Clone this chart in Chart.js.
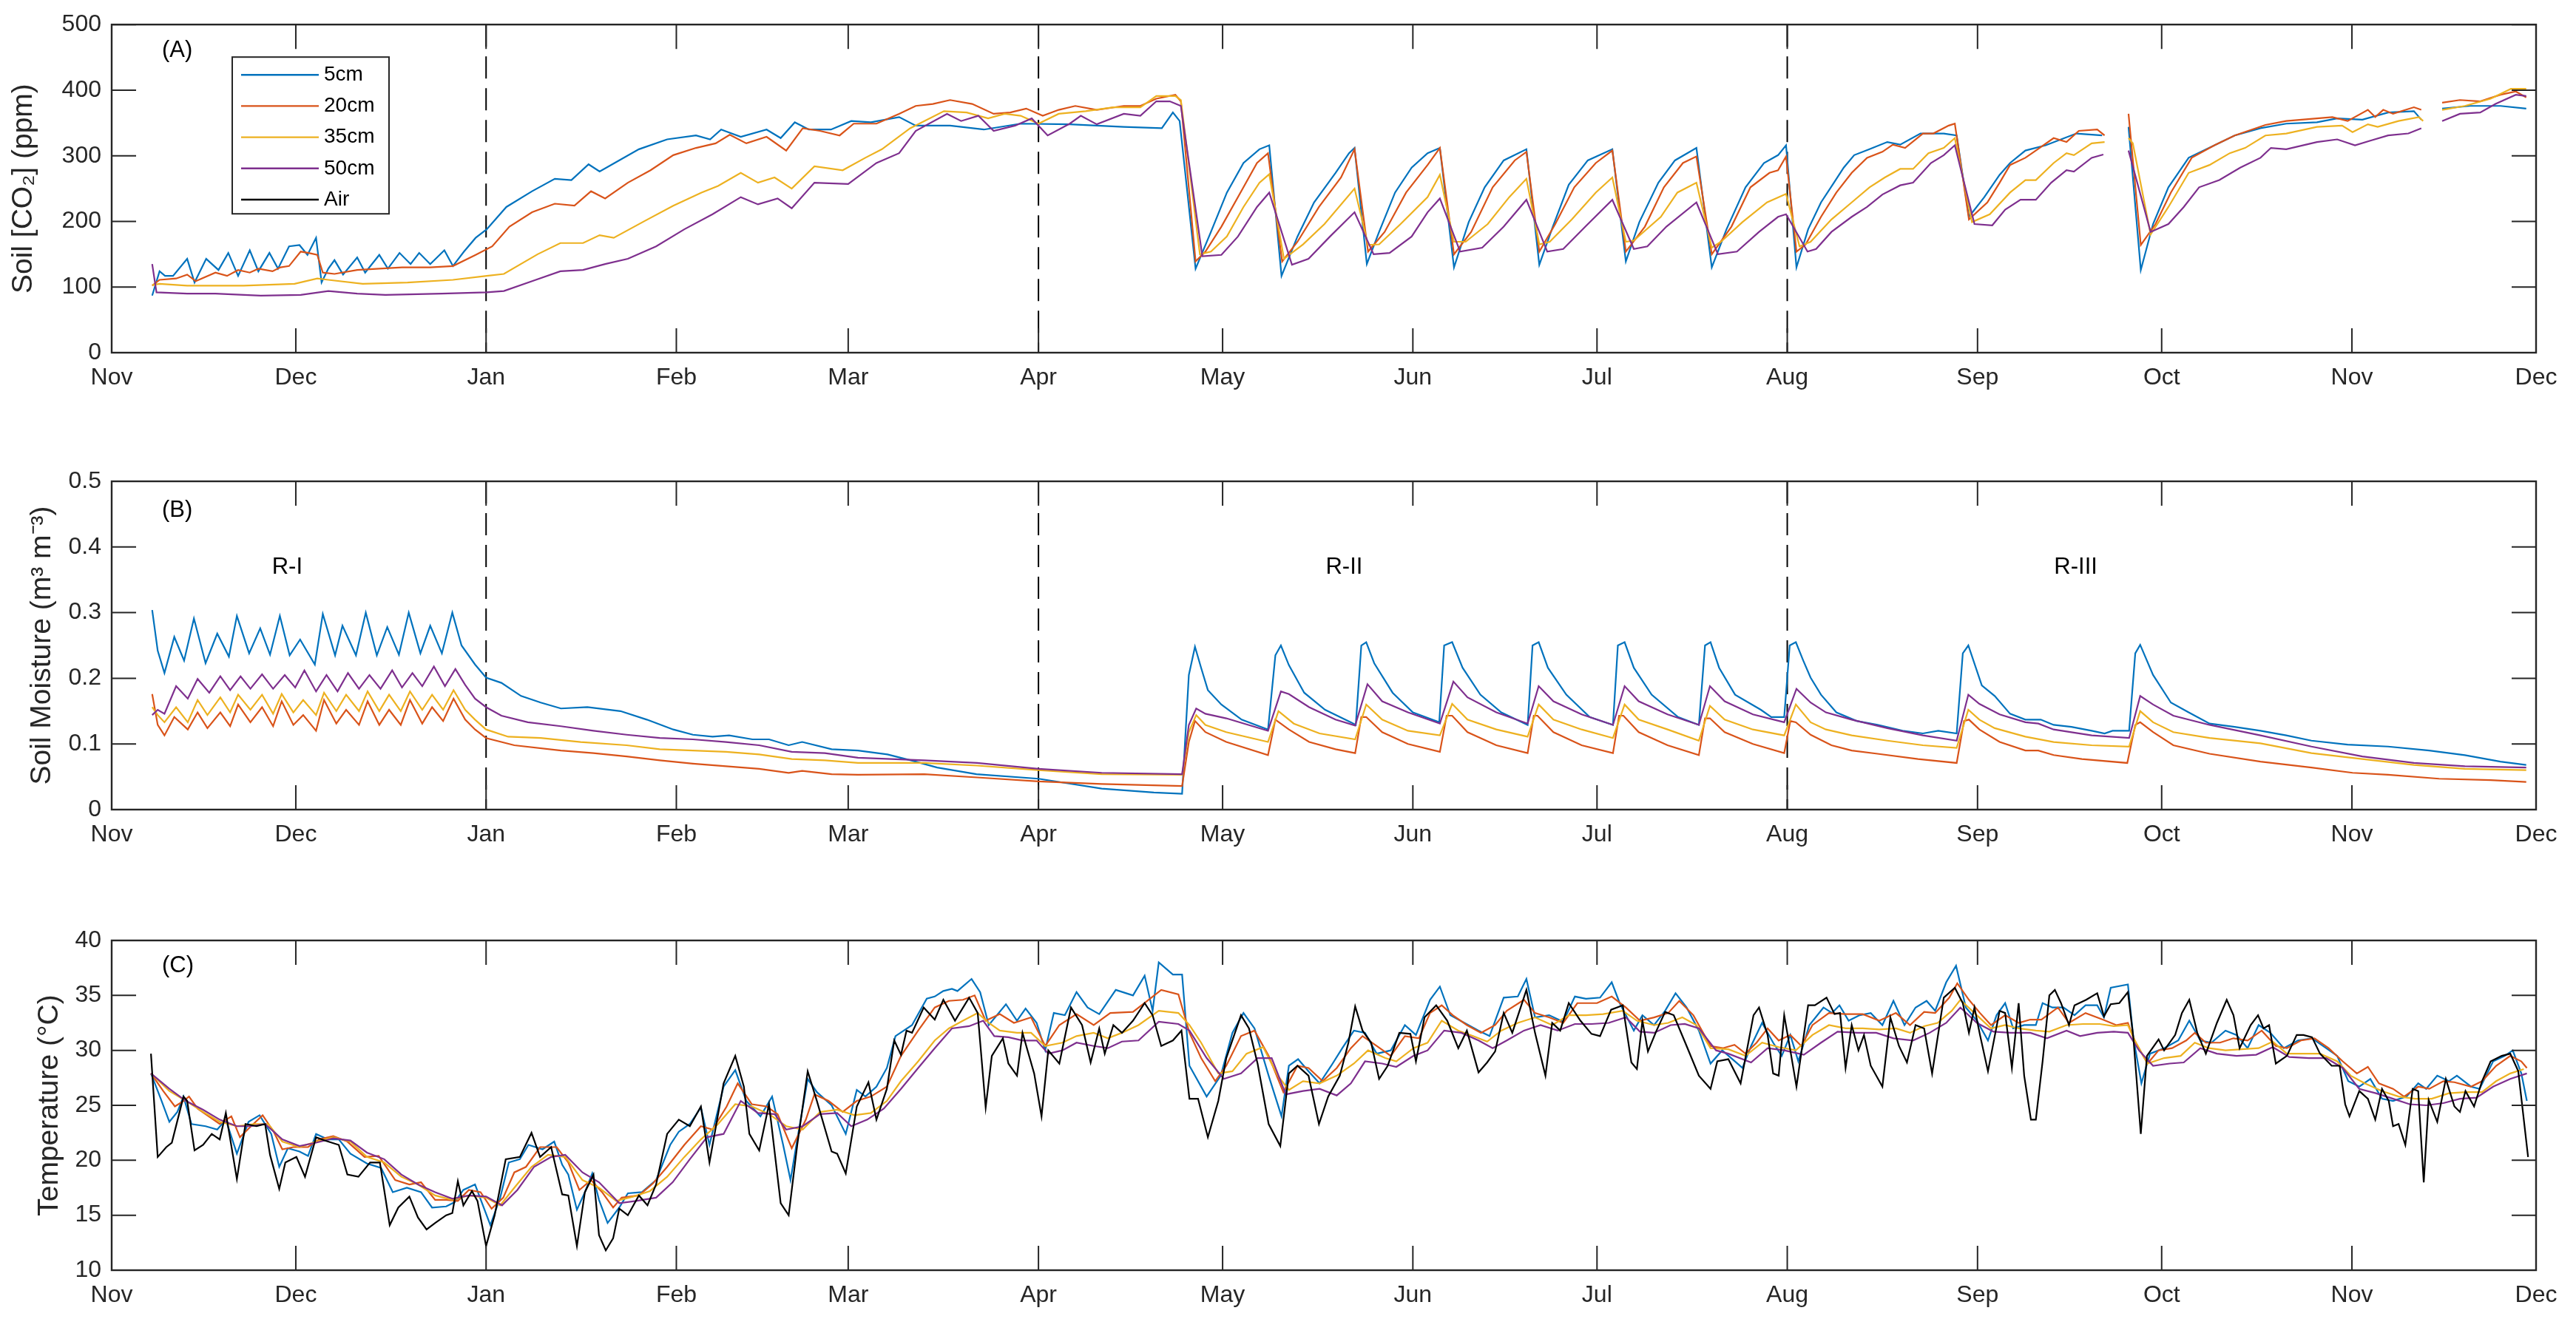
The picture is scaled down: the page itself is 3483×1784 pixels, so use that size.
<!DOCTYPE html>
<html lang="en">
<head>
<meta charset="UTF-8">
<title>Soil CO2, Soil Moisture and Temperature</title>
<script src="https://cdn.jsdelivr.net/npm/chart.js"></script>
<style>
  body { margin: 0; background: #fff; }
  .panel { position: absolute; left: 0; width: 3483px; }
  #panelA { top: 0; height: 590px; }
  #panelB { top: 610px; height: 590px; }
  #panelC { top: 1210px; height: 574px; }
</style>
</head>
<body>
<div class="panel" id="panelA"><canvas id="chartA"></canvas></div>
<div class="panel" id="panelB"><canvas id="chartB"></canvas></div>
<div class="panel" id="panelC"><canvas id="chartC"></canvas></div>

<script>
// days counted from 1 Nov; month starts used as x ticks
const monthTicks = [0, 30, 61, 92, 120, 151, 181, 212, 242, 273, 304, 334, 365, 395];
const monthLabels = ['Nov', 'Dec', 'Jan', 'Feb', 'Mar', 'Apr', 'May', 'Jun', 'Jul', 'Aug', 'Sep', 'Oct', 'Nov', 'Dec'];
const seriesNames = ['5cm', '20cm', '35cm', '50cm', 'Air'];
const regimeStarts = [61, 151, 273];

// (A) soil CO2, ppm  -- [day, value]
const co2_5cm = [[6.6,87],[7.8,124],[8.7,117],[10.0,117],[12.3,143],[13.5,107],[15.4,143],[17.4,126],[19.0,152],[20.6,117],[22.5,156],[23.9,124],[25.7,152],[27.1,128],[28.9,162],[30.6,164],[31.9,149],[33.3,175],[34.2,107],[35.3,128],[36.3,141],[37.7,119],[40.0,145],[41.3,122],[43.6,149],[45.0,128],[46.9,152],[48.7,135],[50.1,152],[51.9,135],[54.2,156],[55.6,132],[57.4,154],[59.3,175],[61.1,188],[64.3,222],[68.5,246],[72.2,265],[74.9,263],[77.7,287],[79.5,276],[82.3,291],[85.9,310],[90.5,325],[95.2,331],[97.5,325],[99.3,340],[102.5,329],[106.7,340],[109.0,327],[111.3,351],[113.6,340],[117.2,340],[120.5,353],[123.7,351],[128.3,359],[131.0,346],[136.6,346],[142.1,340],[148.1,349],[156.1,348],[164.9,344],[171.1,342],[172.9,366],[174.0,353],[176.6,128],[179.1,184],[181.7,244],[184.4,289],[187.0,310],[188.6,316],[190.6,117],[193.2,177],[195.9,229],[199.4,274],[201.6,304],[202.5,312],[204.5,135],[206.5,184],[209.1,244],[211.8,282],[214.4,304],[216.4,312],[218.7,130],[221.1,199],[223.7,252],[226.8,293],[230.5,310],[232.6,134],[234.8,192],[237.4,256],[240.5,293],[244.5,310],[246.7,139],[248.9,199],[252.0,259],[254.7,293],[258.2,312],[260.7,130],[263.1,188],[266.2,252],[269.2,289],[271.5,301],[272.8,316],[274.5,130],[276.4,188],[278.5,229],[280.6,259],[282.2,282],[283.9,301],[286.4,310],[289.3,321],[291.4,317],[294.7,334],[298.5,334],[300.6,331],[302.6,207],[305.1,237],[307.6,271],[309.3,289],[311.8,308],[315.1,316],[320.1,334],[324.3,331],[326,null],[328.6,344],[330.6,126],[332.6,196],[335.1,252],[338.4,297],[342.6,316],[345.9,331],[350.1,342],[354.3,349],[359.3,351],[362.6,357],[366.7,355],[370.9,366],[375.1,368],[376.3,355],[378,null],[379.7,372],[384.2,376],[389.2,376],[393.4,372]];
const co2_20cm = [[6.6,102],[7.8,111],[10.5,113],[12.3,119],[13.7,109],[16.9,122],[18.8,117],[20.6,126],[22.5,122],[23.9,128],[26.2,124],[27.5,130],[28.9,132],[30.8,154],[32.1,152],[33.5,149],[34.4,122],[36.3,120],[40.0,126],[43.6,128],[47.3,130],[51.9,130],[55.6,132],[59.3,149],[62.0,162],[64.8,192],[68.5,214],[72.2,227],[75.4,224],[78.1,246],[80.4,235],[84.1,259],[87.8,278],[91.5,301],[95.2,312],[98.4,319],[100.7,332],[103.4,319],[106.7,329],[109.9,308],[112.6,342],[115.4,338],[118.6,331],[120.9,349],[124.6,349],[128.3,364],[131.0,376],[133.8,379],[136.6,385],[140.2,379],[143.7,364],[146.4,366],[149.0,372],[151.7,361],[154.3,370],[157.0,376],[160.5,370],[164.9,376],[167.6,376],[170.2,387],[173.3,393],[174.2,383],[176.6,139],[178.2,154],[180.8,192],[184.4,252],[186.6,289],[188.4,304],[190.7,139],[193.2,169],[196.7,222],[200.3,267],[202.5,310],[204.7,154],[207.4,184],[210.9,244],[214.4,286],[216.4,312],[218.7,150],[221.5,184],[225.0,252],[228.6,293],[230.5,306],[232.6,154],[235.2,196],[238.3,252],[241.8,289],[244.5,308],[246.7,154],[249.8,192],[252.9,252],[256.0,289],[258.2,299],[260.7,150],[263.9,192],[267.0,252],[270.1,274],[271.5,278],[272.8,299],[274.5,154],[276.0,165],[278.5,207],[281.0,244],[283.5,274],[286.0,297],[288.5,306],[290.2,317],[292.2,312],[295.1,334],[296.8,334],[299.3,346],[300.3,349],[302.6,203],[305.6,229],[307.6,259],[309.3,286],[311.8,297],[313.5,308],[316.4,327],[318.5,321],[320.5,338],[323.5,340],[324.7,331],[326,null],[328.6,364],[330.6,164],[333.0,196],[335.5,244],[338.9,297],[342.6,316],[345.9,331],[350.9,347],[354.3,353],[361.8,359],[364.3,353],[367.6,370],[368.8,359],[370.1,370],[371.7,364],[375.1,374],[376.3,370],[378,null],[379.7,381],[382.6,385],[385.9,383],[389.2,393],[391.7,398],[393.4,389]];
const co2_35cm = [[6.6,103],[7.8,105],[12.3,102],[21.5,102],[29.8,105],[33.5,113],[35.3,111],[40.9,105],[48.2,107],[55.6,111],[61.1,117],[63.9,120],[69.4,150],[73.1,167],[76.8,167],[79.5,179],[81.8,175],[86.9,201],[91.5,224],[96.1,244],[98.8,254],[102.5,274],[105.3,259],[108.0,267],[110.8,250],[114.5,284],[119.1,278],[122.8,297],[125.5,310],[130.1,342],[135.6,368],[139.3,366],[142.8,357],[145.5,364],[148.1,361],[151.0,349],[154.3,364],[158.7,368],[163.2,374],[167.6,374],[170.2,391],[173.3,391],[174.2,385],[177.3,150],[179.1,154],[181.7,177],[184.4,222],[187.0,259],[188.6,272],[191.0,143],[194.1,165],[197.6,196],[202.5,250],[204.7,164],[206.5,165],[210.0,196],[214.4,237],[216.4,271],[218.7,169],[220.6,169],[224.2,196],[227.7,237],[230.5,265],[232.6,165],[234.3,169],[237.9,203],[241.8,244],[244.5,267],[246.7,169],[248.0,171],[252.4,207],[255.1,244],[258.2,259],[260.7,160],[262.2,169],[265.7,199],[269.7,229],[272.8,242],[275.0,162],[276.8,169],[280.2,203],[283.5,229],[286.4,252],[288.9,267],[291.4,280],[293.5,280],[296.0,304],[298.5,312],[300.3,327],[303.1,199],[306.0,211],[309.3,244],[311.8,263],[313.5,263],[316.4,289],[318.5,304],[319.7,301],[322.6,319],[324.7,321],[326,null],[328.6,327],[329.3,319],[332.2,180],[335.1,222],[338.4,274],[341.8,286],[345.1,304],[347.6,312],[350.9,331],[354.3,334],[359.3,344],[363.4,346],[365.1,336],[367.6,348],[369.2,344],[372.6,353],[375.9,359],[376.6,353],[378,null],[379.7,370],[383.4,376],[387.6,387],[390.9,402],[393.4,402]];
const co2_50cm = [[6.6,135],[7.3,92],[12.3,90],[16.9,90],[24.3,87],[30.8,88],[35.3,94],[40.0,90],[44.6,88],[53.8,90],[61.1,92],[63.9,94],[68.5,109],[73.1,124],[76.8,126],[80.4,135],[84.1,143],[88.7,162],[93.3,188],[97.9,211],[102.5,237],[105.3,226],[108.5,235],[110.8,220],[114.5,259],[120.0,257],[124.6,289],[128.3,304],[131.0,338],[136.1,364],[138.4,353],[141.2,361],[143.7,338],[147.2,346],[149.9,357],[152.5,331],[156.1,349],[157.9,361],[160.5,348],[164.9,364],[167.6,361],[170.2,383],[172.4,383],[174.2,376],[177.7,147],[180.8,149],[183.5,177],[186.6,222],[188.6,244],[192.3,134],[195.0,143],[198.5,177],[202.5,214],[205.6,150],[208.2,152],[211.8,177],[214.4,214],[216.4,235],[219.7,154],[223.3,160],[226.8,192],[230.5,233],[233.9,154],[236.5,158],[240.1,192],[244.5,233],[248.0,158],[250.2,162],[253.3,192],[258.2,229],[261.7,150],[264.8,154],[268.4,184],[271.5,207],[272.8,211],[276.3,154],[277.7,158],[280.2,184],[283.5,207],[286.0,222],[288.5,241],[291.4,255],[293.5,259],[296.4,289],[298.5,301],[300.3,316],[303.5,196],[306.4,194],[308.5,218],[311.0,233],[313.5,233],[316.0,259],[318.5,278],[319.7,276],[322.6,297],[324.5,302],[326,null],[328.6,308],[332.2,184],[335.1,196],[337.6,222],[340.1,252],[343.4,263],[346.8,282],[350.1,297],[351.8,312],[354.3,310],[359.3,321],[362.6,325],[365.5,316],[368.0,323],[370.9,331],[374.2,334],[376.3,342],[378,null],[379.7,353],[382.6,364],[385.9,366],[388.4,379],[391.7,393],[393.4,391]];

// (B) soil moisture, m3 m-3
const sm_5cm = [[6.6,0.304],[7.5,0.242],[8.6,0.208],[10.2,0.263],[11.8,0.227],[13.4,0.291],[15.3,0.223],[17.2,0.268],[19.1,0.233],[20.4,0.295],[22.4,0.238],[24.2,0.276],[25.8,0.236],[27.4,0.295],[29.0,0.235],[30.7,0.259],[33.1,0.221],[34.4,0.298],[36.4,0.235],[37.6,0.280],[39.8,0.235],[41.4,0.300],[43.2,0.235],[44.9,0.278],[46.8,0.236],[48.4,0.300],[50.3,0.238],[51.9,0.280],[53.8,0.238],[55.5,0.300],[57.0,0.250],[59.2,0.221],[61.0,0.201],[63.5,0.193],[66.7,0.173],[69.9,0.163],[73.2,0.154],[77.5,0.156],[82.9,0.150],[87.2,0.137],[91.5,0.122],[94.7,0.114],[97.9,0.111],[100.6,0.113],[104.4,0.107],[107.1,0.107],[110.3,0.098],[112.5,0.103],[117.3,0.092],[121.6,0.090],[126.4,0.084],[130.2,0.075],[134.5,0.064],[140.9,0.054],[151.0,0.047],[161.3,0.032],[169.8,0.026],[174.4,0.024],[175.5,0.205],[176.5,0.248],[177.5,0.216],[178.6,0.182],[180.8,0.160],[184.1,0.137],[188.4,0.122],[189.6,0.235],[190.5,0.250],[191.8,0.220],[194.3,0.178],[197.7,0.152],[201.9,0.133],[202.7,0.129],[203.6,0.250],[204.4,0.255],[205.7,0.223],[208.7,0.178],[212.0,0.148],[216.3,0.133],[217.1,0.250],[218.4,0.255],[220.1,0.216],[223.0,0.175],[226.4,0.148],[230.7,0.129],[231.5,0.250],[232.5,0.255],[234.0,0.216],[237.0,0.175],[240.8,0.141],[244.6,0.129],[245.4,0.250],[246.5,0.255],[248.0,0.216],[250.9,0.175],[255.2,0.141],[258.6,0.129],[259.6,0.250],[260.5,0.255],[261.9,0.216],[264.5,0.175],[268.7,0.152],[270.4,0.141],[272.5,0.141],[273.4,0.250],[274.4,0.255],[275.6,0.227],[276.8,0.201],[278.5,0.175],[281.0,0.148],[284.3,0.135],[287.7,0.129],[291.8,0.120],[295.1,0.116],[297.6,0.120],[300.6,0.116],[301.6,0.238],[302.5,0.250],[304.7,0.189],[306.8,0.173],[309.3,0.146],[311.8,0.137],[314.3,0.137],[316.4,0.129],[319.3,0.126],[322.6,0.120],[324.7,0.116],[326.0,0.120],[328.7,0.120],[329.7,0.238],[330.5,0.251],[332.6,0.205],[335.5,0.163],[338.4,0.148],[341.8,0.131],[345.9,0.126],[350.1,0.120],[354.3,0.113],[358.4,0.105],[364.3,0.099],[370.9,0.096],[377.6,0.090],[383.4,0.083],[389.2,0.073],[393.4,0.068]];
const sm_20cm = [[6.6,0.176],[7.5,0.129],[8.6,0.113],[10.2,0.141],[12.4,0.122],[14.0,0.148],[15.6,0.124],[17.7,0.148],[19.3,0.127],[20.6,0.160],[22.6,0.133],[24.5,0.156],[26.3,0.127],[27.7,0.165],[29.6,0.129],[31.2,0.144],[33.3,0.120],[34.6,0.167],[36.6,0.131],[38.2,0.152],[40.3,0.129],[41.7,0.165],[43.6,0.129],[45.2,0.152],[47.1,0.129],[48.6,0.167],[50.6,0.131],[52.2,0.156],[54.0,0.135],[55.7,0.169],[57.6,0.137],[59.2,0.122],[61.0,0.109],[65.6,0.098],[73.2,0.090],[78.5,0.086],[83.9,0.081],[89.3,0.075],[94.7,0.070],[100.1,0.066],[105.5,0.062],[110.3,0.056],[112.5,0.059],[117.3,0.054],[121.6,0.053],[132.4,0.054],[141.0,0.049],[151.0,0.043],[161.3,0.039],[174.4,0.036],[175.5,0.103],[176.5,0.135],[178.2,0.118],[181.6,0.103],[188.4,0.083],[189.6,0.137],[191.8,0.122],[195.1,0.103],[199.4,0.092],[202.6,0.086],[203.6,0.141],[204.4,0.141],[207.0,0.118],[211.2,0.100],[216.4,0.088],[217.5,0.143],[218.4,0.143],[220.9,0.118],[225.6,0.098],[230.7,0.086],[231.7,0.143],[232.3,0.143],[234.9,0.118],[239.5,0.098],[244.6,0.086],[245.6,0.143],[246.3,0.143],[248.8,0.118],[253.5,0.098],[258.6,0.083],[259.6,0.139],[260.4,0.139],[262.8,0.118],[267.4,0.100],[272.5,0.086],[273.5,0.135],[274.4,0.133],[276.8,0.114],[280.2,0.098],[283.5,0.090],[287.7,0.085],[294.3,0.077],[300.6,0.071],[301.8,0.135],[302.6,0.137],[304.3,0.122],[307.6,0.103],[311.8,0.090],[313.9,0.090],[316.4,0.083],[321.0,0.077],[328.4,0.071],[329.7,0.129],[330.5,0.133],[332.6,0.118],[335.9,0.098],[341.8,0.085],[350.1,0.073],[358.4,0.064],[365.1,0.056],[370.9,0.053],[379.2,0.047],[387.6,0.045],[393.4,0.042]];
const sm_35cm = [[6.6,0.156],[7.5,0.144],[8.6,0.133],[10.5,0.156],[12.4,0.133],[14.0,0.167],[15.6,0.144],[17.7,0.171],[19.3,0.148],[20.6,0.175],[22.6,0.152],[24.5,0.175],[26.3,0.146],[27.7,0.176],[29.6,0.148],[31.2,0.167],[33.3,0.144],[34.6,0.178],[36.6,0.150],[38.2,0.175],[40.3,0.150],[41.7,0.180],[43.6,0.150],[45.2,0.175],[47.1,0.150],[48.6,0.180],[50.6,0.152],[52.2,0.175],[54.0,0.152],[55.7,0.182],[57.6,0.152],[59.2,0.137],[61.0,0.122],[64.6,0.111],[69.9,0.109],[76.4,0.103],[83.9,0.098],[89.3,0.092],[94.7,0.090],[100.1,0.088],[105.5,0.084],[110.8,0.077],[116.2,0.075],[121.6,0.071],[132.4,0.071],[141.0,0.067],[151.0,0.060],[161.3,0.054],[174.4,0.053],[175.5,0.118],[176.7,0.144],[178.2,0.129],[181.6,0.118],[188.4,0.103],[190.1,0.150],[192.6,0.131],[196.8,0.116],[202.6,0.107],[204.4,0.160],[207.0,0.137],[211.2,0.120],[216.4,0.113],[218.4,0.161],[220.9,0.137],[225.6,0.122],[230.7,0.111],[232.5,0.160],[234.9,0.137],[239.5,0.122],[244.6,0.109],[246.5,0.160],[248.8,0.137],[253.5,0.122],[258.6,0.105],[260.4,0.158],[262.8,0.137],[267.4,0.122],[272.5,0.113],[274.4,0.160],[276.8,0.133],[279.3,0.122],[283.5,0.113],[289.3,0.105],[295.1,0.098],[300.6,0.094],[302.5,0.152],[304.3,0.137],[306.8,0.124],[311.8,0.111],[316.4,0.103],[322.6,0.098],[328.7,0.096],[330.5,0.150],[332.6,0.133],[335.9,0.118],[341.8,0.109],[350.1,0.101],[358.4,0.086],[366.7,0.077],[375.1,0.068],[383.4,0.062],[393.4,0.060]];
const sm_50cm = [[6.6,0.144],[7.5,0.152],[8.6,0.146],[10.5,0.188],[12.4,0.169],[14.0,0.199],[15.9,0.178],[17.7,0.203],[19.3,0.182],[21.0,0.203],[22.6,0.184],[24.5,0.206],[26.3,0.184],[28.2,0.205],[29.9,0.186],[31.4,0.212],[33.3,0.180],[35.0,0.205],[36.8,0.180],[38.5,0.208],[40.3,0.184],[42.0,0.205],[43.8,0.184],[45.7,0.212],[47.3,0.186],[49.0,0.208],[50.6,0.188],[52.5,0.218],[54.3,0.188],[56.0,0.214],[57.6,0.190],[59.2,0.169],[61.0,0.156],[63.5,0.143],[67.8,0.133],[73.2,0.127],[78.5,0.120],[83.9,0.114],[89.3,0.109],[94.7,0.107],[100.1,0.103],[105.5,0.098],[110.8,0.088],[116.2,0.086],[121.6,0.079],[132.4,0.075],[141.0,0.071],[151.0,0.062],[161.3,0.056],[174.4,0.054],[175.5,0.129],[176.7,0.154],[178.2,0.146],[181.6,0.139],[188.4,0.120],[190.5,0.180],[191.8,0.176],[195.1,0.156],[199.4,0.137],[202.6,0.128],[204.6,0.191],[207.0,0.165],[211.2,0.148],[216.4,0.131],[218.6,0.195],[220.9,0.171],[225.6,0.148],[230.7,0.131],[232.5,0.188],[234.9,0.165],[239.5,0.145],[244.6,0.129],[246.5,0.188],[248.8,0.165],[253.5,0.145],[258.6,0.129],[260.4,0.188],[262.8,0.165],[267.4,0.145],[272.5,0.133],[274.5,0.184],[276.8,0.163],[279.3,0.148],[283.5,0.137],[289.3,0.124],[295.1,0.113],[300.6,0.105],[302.5,0.175],[304.3,0.161],[307.6,0.145],[311.8,0.133],[313.9,0.131],[316.4,0.122],[322.6,0.113],[328.7,0.109],[330.5,0.173],[332.6,0.160],[335.9,0.143],[341.8,0.129],[350.1,0.113],[358.4,0.096],[366.7,0.081],[375.1,0.071],[383.4,0.066],[393.4,0.064]];

// (C) temperature, degC
const temp_5cm = [[6.4,27.9],[8.0,25.6],[9.4,23.5],[10.7,24.4],[11.7,25.8],[13.0,23.3],[15.3,23.1],[17.2,22.8],[18.6,23.7],[20.4,20.6],[22.3,23.5],[24.1,24.1],[26.0,22.4],[27.3,19.4],[28.7,21.1],[30.6,20.8],[32.0,20.4],[33.3,22.4],[35.2,21.9],[37.0,21.9],[38.9,20.6],[41.6,19.7],[43.9,19.3],[45.8,17.1],[48.1,17.5],[50.4,17.1],[52.2,15.7],[54.5,15.8],[55.9,16.2],[57.3,17.3],[59.2,17.8],[61.7,14.1],[63.3,16.6],[64.7,19.8],[66.5,20.1],[67.9,21.4],[70.2,21.0],[72.1,21.7],[73.4,19.6],[74.4,18.7],[75.8,15.5],[77.1,17.1],[78.3,18.8],[79.4,16.4],[80.8,14.3],[82.7,15.7],[84.1,17.0],[86.4,17.1],[88.7,18.2],[91.0,21.4],[92.4,22.6],[94.2,23.3],[96.0,24.8],[97.4,21.4],[99.7,26.7],[101.6,28.2],[103.4,25.4],[105.7,24.0],[107.6,25.8],[109.4,21.4],[110.6,18.2],[111.7,21.9],[113.4,27.4],[114.9,26.2],[117.3,25.0],[119.6,22.4],[121.4,26.4],[122.8,25.8],[124.6,26.7],[126.3,28.4],[127.7,31.3],[130.4,32.3],[132.8,34.7],[134.1,34.9],[135.5,35.4],[136.9,35.6],[137.8,35.4],[140.1,36.5],[141.5,35.3],[142.9,32.3],[145.7,34.2],[147.5,32.7],[148.9,33.8],[150.7,32.5],[152.1,30.0],[153.5,33.4],[155.3,33.2],[157.2,35.3],[159.0,33.9],[160.9,33.3],[163.6,35.5],[166.4,35.0],[168.3,36.8],[169.6,33.6],[170.6,38.0],[172.9,36.9],[174.4,36.9],[175.6,28.6],[178.4,25.8],[180.7,27.7],[182.6,31.6],[184.4,33.4],[186.2,32.0],[188.5,27.7],[190.6,24.0],[191.8,28.6],[193.3,29.2],[195.0,28.1],[196.8,27.0],[198.7,28.6],[200.5,30.2],[202.4,31.8],[204.2,31.6],[206.1,29.7],[208.4,30.0],[210.7,32.3],[212.5,31.4],[214.8,34.6],[216.4,35.8],[218.1,33.2],[220.4,32.5],[222.7,31.8],[224.5,31.3],[226.8,34.8],[229.1,34.9],[230.5,36.5],[231.9,33.0],[234.2,33.2],[236.5,32.6],[238.4,34.9],[240.2,34.7],[242.5,34.8],[244.4,36.2],[245.7,34.3],[248.0,31.8],[249.4,33.2],[251.3,32.3],[253.1,33.6],[254.8,35.2],[256.6,33.9],[258.6,31.8],[260.5,28.8],[262.4,30.0],[265.7,28.4],[267.1,30.4],[268.9,32.5],[270.7,30.7],[272.1,29.5],[273.5,31.4],[274.8,29.0],[276.6,32.3],[278.9,33.9],[280.3,33.4],[281.5,34.1],[283.0,32.7],[284.8,33.2],[286.6,33.4],[288.5,32.3],[290.3,34.5],[292.1,32.3],[293.9,33.9],[295.7,34.5],[297.1,33.6],[298.9,36.2],[300.5,37.7],[302.1,33.9],[303.9,32.7],[305.7,30.9],[307.1,33.2],[308.5,34.3],[309.8,32.0],[311.6,32.3],[313.5,32.3],[314.6,34.3],[316.2,33.9],[318.0,33.9],[319.8,33.2],[321.6,34.1],[323.5,34.1],[324.6,33.0],[325.7,35.7],[328.5,36.0],[329.4,31.1],[330.7,27.0],[332.1,29.7],[334.4,30.2],[336.7,30.9],[338.5,32.7],[340.3,30.9],[342.1,30.7],[344.4,31.8],[346.2,31.4],[348.0,30.2],[349.8,32.3],[351.7,31.6],[353.9,30.2],[356.2,30.9],[358.5,31.1],[360.8,30.2],[362.6,29.5],[364.4,27.2],[366.2,26.7],[368.0,27.4],[369.9,25.6],[371.7,25.4],[373.9,25.8],[375.8,27.0],[377.1,26.5],[378.9,27.7],[380.8,27.2],[382.1,27.7],[384.4,26.7],[385.8,26.5],[388.0,29.0],[389.9,29.5],[391.2,30.0],[392.6,27.9],[393.5,25.4]];
const temp_20cm = [[6.4,27.9],[8.4,26.3],[10.3,24.9],[11.7,25.4],[12.6,25.8],[14.0,24.7],[15.8,24.0],[17.6,23.3],[19.5,24.0],[20.9,22.1],[22.7,23.1],[24.6,24.1],[26.4,22.6],[27.8,21.0],[29.6,21.2],[32.0,21.2],[33.8,21.9],[36.1,22.2],[38.4,21.7],[41.2,20.3],[43.5,20.4],[46.2,18.2],[48.5,17.8],[50.4,18.0],[52.7,16.4],[54.5,16.4],[56.4,16.3],[58.2,17.3],[60.1,17.1],[61.9,15.6],[63.8,16.6],[65.6,18.9],[67.5,19.4],[69.8,21.2],[72.5,21.2],[74.4,19.8],[76.2,17.3],[78.1,18.2],[79.9,17.1],[81.7,15.7],[83.1,16.6],[85.9,16.8],[88.2,17.9],[90.5,19.4],[93.3,21.4],[96.0,23.1],[97.9,22.8],[100.2,24.9],[102.0,27.0],[104.3,25.1],[106.7,24.9],[108.5,24.2],[110.8,21.1],[113.1,23.7],[114.5,26.0],[116.8,25.4],[119.1,24.4],[121.4,25.4],[123.7,25.8],[126.3,26.7],[128.6,29.5],[131.4,31.8],[134.1,33.9],[136.4,34.5],[138.7,34.6],[140.6,35.0],[142.4,32.7],[144.7,33.3],[147.0,32.5],[149.8,33.0],[152.1,30.4],[154.4,32.3],[157.2,33.3],[160.0,32.3],[162.7,33.4],[166.4,33.5],[168.7,34.5],[171.0,35.5],[173.8,35.1],[175.6,31.6],[177.5,29.3],[179.8,27.2],[181.6,28.6],[184.0,31.3],[186.2,31.8],[188.5,29.5],[190.9,26.2],[193.2,28.6],[195.0,28.4],[197.3,27.2],[199.6,28.4],[201.9,30.2],[203.8,31.3],[206.1,30.4],[208.4,29.5],[210.7,31.3],[213.0,31.1],[214.8,33.4],[216.7,34.1],[218.5,33.2],[220.8,32.3],[223.1,31.6],[225.4,32.3],[227.3,33.6],[230.1,34.6],[231.9,33.4],[234.2,33.0],[236.5,32.5],[238.8,34.3],[242.0,34.3],[244.4,34.9],[246.7,33.9],[249.0,32.7],[251.3,33.0],[253.6,33.4],[255.4,34.5],[257.7,33.2],[260.5,30.4],[262.5,30.2],[264.4,30.5],[266.2,29.7],[268.0,30.7],[269.8,32.0],[271.6,30.9],[273.5,31.4],[275.3,30.4],[277.1,32.3],[279.8,33.4],[282.5,33.3],[285.3,33.3],[288.0,32.7],[290.7,33.4],[293.0,32.3],[295.3,33.5],[297.1,33.4],[299.4,34.8],[300.7,36.1],[302.6,34.6],[304.4,33.4],[306.2,32.3],[308.5,33.2],[310.7,32.5],[312.6,32.8],[314.4,32.8],[317.1,33.9],[318.9,32.5],[321.6,33.4],[324.4,32.8],[326.6,32.3],[328.5,32.5],[329.4,31.1],[331.7,28.8],[333.5,30.0],[335.7,30.2],[338.0,30.9],[339.4,31.6],[341.2,30.7],[343.5,30.7],[345.7,31.1],[348.0,30.9],[350.3,31.8],[352.6,30.4],[354.4,30.2],[356.7,30.9],[358.9,31.1],[361.2,30.2],[363.5,29.0],[365.8,27.9],[367.6,28.5],[369.4,27.0],[371.7,26.5],[373.5,25.8],[375.8,26.7],[377.6,26.5],[379.9,27.2],[381.7,27.1],[384.4,26.7],[386.2,27.2],[388.5,28.6],[390.8,29.5],[392.6,29.0],[393.5,28.4]];
const temp_35cm = [[6.4,27.9],[9.4,26.3],[12.1,25.4],[14.9,24.4],[17.6,23.5],[20.4,23.1],[23.2,23.3],[25.5,23.3],[27.8,21.7],[30.6,21.2],[33.3,21.7],[36.1,22.1],[38.9,21.7],[41.6,20.3],[44.4,19.8],[47.2,18.5],[49.9,17.8],[52.7,16.8],[55.5,16.4],[58.2,16.8],[61.0,16.6],[63.3,15.9],[65.6,17.5],[68.4,19.4],[71.1,20.5],[73.9,20.3],[76.7,18.2],[79.4,17.5],[82.2,16.3],[85.0,16.7],[87.7,17.2],[90.5,18.5],[93.3,20.3],[96.0,21.9],[98.8,23.3],[101.6,25.1],[104.3,24.9],[107.1,24.2],[109.9,23.1],[112.6,22.8],[115.4,24.4],[118.2,24.6],[121.0,24.1],[123.7,24.3],[126.3,25.4],[128.6,27.2],[131.4,29.0],[134.1,30.9],[136.4,32.0],[138.7,32.7],[141.1,33.4],[142.9,32.5],[144.7,31.8],[147.5,31.6],[149.8,31.6],[152.1,30.4],[154.9,30.7],[157.2,31.3],[160.0,31.6],[162.3,31.1],[164.6,31.6],[167.3,32.3],[170.6,33.6],[173.8,33.4],[175.6,32.3],[177.5,30.7],[180.3,27.9],[182.6,28.1],[184.9,29.7],[187.6,30.3],[190.0,27.7],[191.8,26.4],[194.1,27.2],[196.8,27.0],[199.6,27.7],[202.4,28.8],[204.7,30.0],[207.5,29.3],[209.3,29.0],[212.1,30.2],[214.4,30.7],[216.7,32.7],[219.4,31.8],[221.8,31.3],[224.1,30.8],[226.4,31.8],[229.1,32.5],[231.9,33.0],[234.7,32.3],[237.4,33.2],[240.2,33.2],[243.0,33.3],[246.2,33.6],[248.5,32.7],[251.3,32.3],[253.6,32.5],[255.9,33.0],[258.2,32.3],[260.5,30.2],[263.4,30.1],[266.2,29.5],[268.9,30.7],[271.6,30.3],[274.4,30.0],[277.1,31.4],[279.8,32.3],[282.5,32.0],[285.3,32.0],[288.0,31.9],[290.7,32.0],[293.0,31.6],[295.3,32.2],[297.5,32.5],[299.8,33.6],[301.2,34.6],[303.5,33.4],[306.2,32.0],[308.5,32.3],[310.7,32.0],[313.5,31.8],[315.7,31.7],[318.5,32.3],[321.2,32.4],[323.9,32.4],[326.2,32.2],[328.5,32.3],[329.8,30.7],[331.7,28.8],[334.4,29.3],[337.1,29.5],[339.4,30.7],[341.7,30.2],[344.4,30.0],[347.1,30.1],[349.8,30.2],[352.1,30.8],[354.4,29.7],[357.1,29.7],[359.8,29.7],[362.6,29.0],[364.8,27.7],[367.1,27.0],[369.9,26.3],[372.6,25.8],[375.3,25.6],[378.0,25.6],[380.8,26.1],[383.5,26.2],[386.2,26.2],[388.5,27.2],[390.8,27.9],[393.0,28.3]];
const temp_50cm = [[6.4,27.9],[9.4,26.5],[12.1,25.4],[14.9,24.6],[17.6,23.7],[20.4,23.1],[22.7,23.1],[25.0,23.3],[27.8,21.9],[30.6,21.3],[33.3,21.6],[36.1,22.0],[38.9,21.8],[41.6,20.7],[44.4,20.1],[47.2,18.7],[49.9,17.8],[52.7,17.1],[55.5,16.5],[58.2,16.8],[61.0,16.7],[63.6,15.9],[66.1,17.3],[68.8,19.4],[71.6,20.3],[73.9,20.5],[76.7,18.9],[79.4,18.0],[82.7,16.1],[85.4,16.3],[88.7,16.6],[91.4,18.0],[94.2,20.1],[97.0,22.1],[99.7,22.4],[102.5,25.4],[105.3,24.3],[108.0,24.2],[109.9,22.8],[112.6,23.1],[115.4,24.2],[118.2,24.3],[120.5,23.1],[123.1,23.7],[125.8,24.7],[128.6,26.5],[131.4,28.4],[134.1,30.2],[136.9,32.0],[139.7,32.2],[142.0,32.7],[143.8,31.3],[146.1,31.2],[148.4,30.9],[150.7,30.9],[152.6,29.7],[154.9,30.0],[157.2,30.7],[160.0,30.4],[162.3,30.2],[164.6,30.8],[167.3,30.9],[170.6,32.6],[173.8,32.4],[175.6,31.8],[178.4,29.3],[181.2,27.4],[184.0,27.9],[186.7,29.3],[189.0,29.3],[191.3,26.0],[194.1,26.3],[196.8,26.5],[199.6,25.9],[201.9,27.0],[204.2,29.0],[207.0,28.8],[209.3,28.5],[212.1,29.5],[214.4,30.0],[217.1,31.8],[219.9,31.6],[222.7,30.9],[225.0,30.2],[227.3,30.9],[230.1,31.8],[232.8,32.3],[235.6,31.8],[238.4,32.4],[241.1,32.4],[243.9,32.5],[246.7,33.0],[249.0,31.7],[251.3,31.6],[254.0,32.3],[256.3,32.4],[258.6,32.0],[261.4,30.0],[263.4,29.7],[267.1,28.9],[269.8,30.2],[272.5,30.0],[275.7,29.6],[278.5,30.7],[281.2,31.7],[284.4,31.6],[287.5,31.6],[290.3,31.1],[293.5,30.9],[296.2,31.6],[298.9,32.5],[301.2,33.9],[303.9,32.5],[306.6,31.7],[309.4,31.6],[312.6,31.6],[315.3,31.1],[318.5,31.8],[320.7,31.3],[323.5,31.6],[326.2,31.7],[328.5,31.6],[330.3,30.0],[332.6,28.6],[335.3,28.8],[337.6,28.9],[340.3,30.2],[343.0,29.7],[346.2,29.5],[349.4,29.6],[352.1,30.3],[354.8,29.4],[358.0,29.3],[360.8,29.3],[363.5,28.4],[366.2,26.5],[368.9,26.1],[371.7,25.6],[374.4,25.1],[377.1,25.0],[379.9,25.2],[382.6,25.6],[385.3,25.7],[388.0,26.7],[390.8,27.4],[393.5,27.9]];
const temp_air = [[6.4,29.7],[7.5,20.3],[8.9,21.2],[9.8,21.6],[11.7,25.8],[12.3,25.4],[13.5,20.9],[14.9,21.4],[16.3,22.4],[17.6,21.9],[18.6,24.3],[20.4,18.3],[21.8,23.3],[23.6,23.1],[25.0,23.3],[25.8,20.5],[27.3,17.4],[28.3,19.8],[30.1,20.3],[31.5,18.5],[33.3,22.1],[34.7,21.8],[37.0,21.4],[38.4,18.7],[40.2,18.5],[42.1,19.8],[43.7,19.8],[45.3,14.1],[46.7,15.7],[48.5,16.7],[49.9,14.8],[51.3,13.7],[52.7,14.3],[54.5,15.0],[55.5,15.2],[56.4,18.1],[57.3,15.9],[58.7,17.2],[59.6,16.3],[61.0,12.2],[62.4,15.0],[64.2,20.1],[66.5,20.3],[68.4,22.5],[69.8,20.3],[71.6,21.2],[73.4,16.9],[74.4,16.8],[75.8,12.2],[77.1,17.1],[78.5,18.7],[79.4,13.2],[80.5,11.8],[81.7,12.9],[82.7,15.6],[84.1,15.0],[85.9,16.8],[87.3,15.9],[88.7,17.8],[90.5,22.4],[92.4,23.7],[94.2,23.1],[96.0,24.9],[97.4,19.8],[99.7,27.0],[101.6,29.5],[103.0,26.7],[103.9,22.4],[105.5,20.9],[107.1,25.1],[109.0,16.1],[110.3,15.0],[111.7,21.4],[113.4,28.1],[114.9,25.4],[117.3,20.8],[118.2,20.6],[119.6,18.8],[121.4,24.9],[123.3,27.1],[124.6,23.7],[126.3,26.5],[127.5,30.9],[128.6,29.6],[129.5,31.8],[130.4,31.6],[132.3,33.9],[134.1,32.8],[135.5,34.6],[137.4,32.7],[139.7,34.8],[141.1,33.4],[142.4,24.8],[143.4,29.5],[145.2,31.1],[146.1,28.8],[147.5,27.7],[148.4,31.6],[150.3,27.9],[151.5,24.0],[152.6,30.0],[154.4,28.8],[156.3,33.9],[158.1,32.3],[159.5,28.9],[160.9,32.0],[161.8,29.7],[163.2,32.3],[164.6,31.6],[166.4,32.7],[168.3,34.3],[169.6,33.2],[171.0,30.4],[172.9,30.9],[174.3,31.8],[175.6,25.6],[177.0,25.6],[178.6,22.1],[180.3,25.4],[181.6,29.3],[184.0,33.2],[185.3,32.0],[186.7,28.8],[188.5,23.3],[190.4,21.3],[191.8,27.9],[193.2,28.6],[195.0,27.7],[196.7,23.3],[198.2,25.8],[200.1,27.7],[201.5,30.7],[202.6,34.0],[203.8,31.8],[205.2,30.7],[206.5,27.4],[207.9,28.6],[209.8,31.6],[211.6,31.5],[212.5,29.0],[213.9,33.0],[215.8,34.1],[217.6,32.7],[219.4,30.2],[220.8,31.8],[222.7,28.0],[224.1,28.9],[225.4,29.9],[226.8,33.4],[228.2,31.6],[230.5,35.5],[231.9,31.6],[233.6,27.7],[234.7,32.5],[236.0,31.8],[237.4,34.3],[239.3,32.7],[241.1,31.5],[242.5,31.3],[244.3,33.7],[246.2,34.1],[247.6,28.9],[248.5,28.3],[249.4,32.7],[250.3,29.9],[251.7,31.8],[253.1,33.5],[254.5,33.2],[256.6,30.4],[258.6,27.7],[260.5,26.5],[261.6,29.0],[263.4,29.2],[265.4,27.0],[267.5,33.2],[268.4,33.9],[269.8,31.4],[270.7,27.9],[271.6,27.7],[272.5,33.2],[273.5,30.0],[274.5,26.7],[276.4,34.1],[277.5,34.1],[279.4,34.8],[280.7,33.3],[281.6,33.4],[282.5,28.4],[283.5,32.3],[284.6,30.0],[285.5,31.4],[286.6,28.6],[288.5,26.7],[289.8,33.0],[291.2,30.4],[292.5,28.9],[293.9,32.3],[295.3,32.0],[296.6,27.9],[298.5,34.8],[300.3,35.7],[301.6,34.3],[302.6,31.6],[303.5,33.9],[304.4,31.4],[305.7,28.1],[307.6,33.6],[308.5,33.4],[309.6,28.4],[310.7,34.3],[311.6,27.7],[312.7,23.7],[313.5,23.7],[314.6,29.0],[315.7,35.0],[316.6,35.5],[317.6,34.3],[318.9,32.3],[319.8,34.1],[321.7,34.6],[323.5,35.2],[324.6,33.1],[325.7,34.2],[327.1,34.3],[328.5,35.3],[329.4,31.1],[330.6,22.4],[331.6,29.5],[333.5,31.0],[334.4,30.0],[336.2,31.4],[337.3,33.4],[338.5,34.6],[339.8,31.6],[341.2,29.7],[343.0,32.5],[344.6,34.6],[345.7,33.2],[346.7,30.2],[348.5,32.3],[349.7,33.2],[350.6,32.0],[351.5,32.3],[352.6,28.8],[354.4,29.5],[356.0,31.4],[357.1,31.4],[358.5,31.2],[359.8,29.7],[361.7,28.6],[363.0,28.6],[363.9,25.1],[364.6,24.0],[366.2,26.3],[367.6,25.6],[368.8,23.7],[369.9,26.5],[371.0,25.4],[371.7,23.1],[372.6,23.3],[373.7,21.4],[374.9,26.5],[375.8,26.3],[376.7,18.0],[377.5,25.5],[378.9,23.5],[380.3,27.4],[381.7,24.9],[382.6,24.4],[383.5,26.3],[384.9,24.9],[386.2,27.2],[387.6,29.0],[389.4,29.5],[390.8,29.7],[392.1,28.1],[393.7,20.3]];

const FONT = '"Liberation Sans", Arial, Helvetica, sans-serif';
const INK = '#262626';
const COLORS = ['#0072BD', '#D95319', '#EDB120', '#7E2F8E', '#000000'];
const TICK_LEN = 33;

// inward MATLAB-style ticks, boxed axes, dashed regime lines, notes and legend
const matlabAxes = {
  id: 'matlabAxes',
  beforeDatasetsDraw(chart, args, opts) {
    const { ctx, chartArea: a, scales: { x } } = chart;
    if (!opts.dashed) return;
    ctx.save();
    ctx.strokeStyle = '#000';
    ctx.lineWidth = 2;
    ctx.setLineDash([30, 13]);
    opts.dashed.forEach(d => {
      const px = x.getPixelForValue(d);
      ctx.beginPath();
      ctx.moveTo(px, a.top);
      ctx.lineTo(px, a.bottom);
      ctx.stroke();
    });
    ctx.restore();
  },
  afterDraw(chart, args, opts) {
    const { ctx, chartArea: a, scales: { x, y } } = chart;
    ctx.save();
    ctx.strokeStyle = INK;
    ctx.lineWidth = 2;
    ctx.beginPath();
    x.ticks.forEach(t => {
      const px = x.getPixelForValue(t.value);
      ctx.moveTo(px, a.bottom); ctx.lineTo(px, a.bottom - TICK_LEN);
      ctx.moveTo(px, a.top); ctx.lineTo(px, a.top + TICK_LEN);
    });
    y.ticks.forEach(t => {
      const py = y.getPixelForValue(t.value);
      ctx.moveTo(a.left, py); ctx.lineTo(a.left + TICK_LEN, py);
      ctx.moveTo(a.right, py); ctx.lineTo(a.right - TICK_LEN, py);
    });
    ctx.stroke();
    ctx.lineWidth = 2.4;
    ctx.strokeRect(a.left, a.top, a.right - a.left, a.bottom - a.top);

    ctx.fillStyle = '#000';
    ctx.textBaseline = 'middle';
    ctx.font = '31px ' + FONT;
    (opts.notes || []).forEach(n => {
      ctx.textAlign = n.align || 'left';
      ctx.fillText(n.text, x.getPixelForValue(n.x), y.getPixelForValue(n.y));
    });

    if (opts.legend) {
      const bx = a.left + 163, by = a.top + 44, bw = 212, bh = 212;
      ctx.fillStyle = '#fff';
      ctx.fillRect(bx, by, bw, bh);
      ctx.strokeStyle = INK;
      ctx.lineWidth = 2;
      ctx.strokeRect(bx, by, bw, bh);
      ctx.font = '28px ' + FONT;
      ctx.textAlign = 'left';
      seriesNames.forEach((name, i) => {
        const ly = by + 24 + i * 42.2;
        ctx.strokeStyle = COLORS[i];
        ctx.lineWidth = 2.4;
        ctx.beginPath();
        ctx.moveTo(bx + 12, ly);
        ctx.lineTo(bx + 117, ly);
        ctx.stroke();
        ctx.fillStyle = '#000';
        ctx.fillText(name, bx + 124, ly);
      });
    }
    ctx.restore();
  }
};

function series(data, i) {
  return {
    label: seriesNames[i],
    data: data,
    borderColor: COLORS[i],
    backgroundColor: COLORS[i],
    borderWidth: 2.2,
    pointRadius: 0,
    tension: 0,
    spanGaps: false,
    order: 5 - i
  };
}

function makeChart(id, datasets, cfg) {
  return new Chart(document.getElementById(id), {
    type: 'line',
    data: { datasets: datasets },
    options: {
      responsive: true,
      maintainAspectRatio: false,
      devicePixelRatio: 1,
      animation: false,
      events: [],
      layout: { padding: { top: cfg.padTop, right: 54, bottom: 0, left: 0 } },
      scales: {
        x: {
          type: 'linear',
          min: 0,
          max: 395,
          afterBuildTicks: s => { s.ticks = monthTicks.map(v => ({ value: v })); },
          afterFit: s => { s.height = cfg.xHeight; },
          grid: { display: false, drawTicks: false },
          border: { display: false },
          ticks: {
            autoSkip: false,
            maxRotation: 0,
            padding: 15,
            color: INK,
            font: { size: 32, family: FONT },
            callback: (v, i) => monthLabels[i]
          }
        },
        y: {
          min: cfg.yMin,
          max: cfg.yMax,
          afterFit: s => { s.width = 151; },
          grid: { display: false, drawTicks: false },
          border: { display: false },
          ticks: {
            stepSize: cfg.yStep,
            padding: 14,
            color: INK,
            font: { size: 32, family: FONT },
            callback: cfg.yFormat
          },
          title: {
            display: true,
            text: cfg.yTitle,
            color: INK,
            font: { size: 39, family: FONT },
            padding: { top: cfg.titlePad, bottom: 0 }
          }
        }
      },
      plugins: {
        legend: { display: false },
        tooltip: { enabled: false },
        matlabAxes: cfg.axes
      }
    },
    plugins: [matlabAxes]
  });
}

makeChart('chartA', [co2_5cm, co2_20cm, co2_35cm, co2_50cm].map(series), {
  padTop: 33, xHeight: 113, yMin: 0, yMax: 500, yStep: 100, titlePad: 9,
  yFormat: v => String(v),
  yTitle: 'Soil [CO\u2082] (ppm)',
  axes: { dashed: regimeStarts, legend: true, notes: [{ text: '(A)', x: 8.2, y: 460 }] }
});

makeChart('chartB', [sm_5cm, sm_20cm, sm_35cm, sm_50cm].map(series), {
  padTop: 41, xHeight: 105, yMin: 0, yMax: 0.5, yStep: 0.1, titlePad: 34,
  yFormat: v => (v === 0 ? '0' : v.toFixed(1)),
  yTitle: 'Soil Moisture (m\u00B3 m\u207B\u00B3)',
  axes: {
    dashed: regimeStarts,
    notes: [
      { text: '(B)', x: 8.2, y: 0.456 },
      { text: 'R-I', x: 28.6, y: 0.369, align: 'center' },
      { text: 'R-II', x: 200.8, y: 0.369, align: 'center' },
      { text: 'R-III', x: 320, y: 0.369, align: 'center' }
    ]
  }
});

makeChart('chartC', [temp_5cm, temp_20cm, temp_35cm, temp_50cm, temp_air].map(series), {
  padTop: 62, xHeight: 66, yMin: 10, yMax: 40, yStep: 5, titlePad: 44,
  yFormat: v => String(v),
  yTitle: 'Temperature (\u00B0C)',
  axes: { notes: [{ text: '(C)', x: 8.2, y: 37.7 }] }
});
</script>
</body>
</html>
